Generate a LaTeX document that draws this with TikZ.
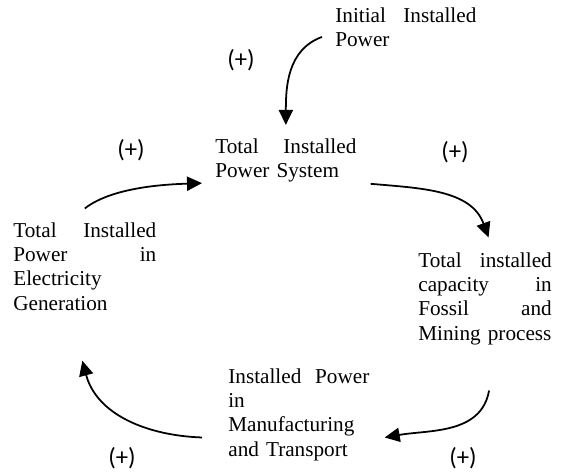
\documentclass[tikz,border=0pt]{standalone}
\usepackage{fontspec}
\setmainfont{Liberation Serif}
\newfontfamily\signfont{Carlito}
\usetikzlibrary{arrows.meta}
\hbadness=10000
\hyphenpenalty=10000

\begin{document}
\begin{tikzpicture}[x=0.566pt,y=0.566pt,
		box/.style={anchor=base west,inner sep=0pt,text width=#1,font=\fontsize{12}{13.8}\selectfont},
		box/.default=79.8pt,
		sign/.style={inner sep=0pt,font=\signfont\fontsize{14}{16}\selectfont},
		link/.style={-{Triangle[length=8.5pt,width=8pt]},line width=1pt}]
		\useasboundingbox (0,0) rectangle (566,-473);
		\node[box] (init) at (335,-22) {Initial\hfill Installed\\Power};
		\node[box] (total) at (215,-153) {Total\hfill Installed\\Power System};
		\node[box=80.9pt] (elec) at (13,-237) {Total\hfill Installed\\Power\hfill in\\Electricity\\Generation};
		\node[box=75.5pt] (fossil) at (418,-267) {Total\hfill installed\\capacity\hfill in\\Fossil\hfill and\\Mining process};
		\node[box] (manuf) at (228,-383) {Installed\hfill Power\\in\\Manufacturing\\and Transport};
		\node[sign] (s1) at (241,-60) {(+)};
		\node[sign] (s2) at (131,-150) {(+)};
		\node[sign] (s3) at (455,-152) {(+)};
		\node[sign] (s4) at (122,-458) {(+)};
		\node[sign] (s5) at (463,-458) {(+)};
		\draw[link] ([shift={(-13,-10)}]init.west) to[out=200,in=90] ([shift={(0,13)}]total.north);
		\draw[link] ([shift={(0,13.5)}]elec.north) to[out=38,in=182,looseness=0.75] ([shift={(-13,-23)}]total.west);
		\draw[link] ([shift={(14,-1.5)}]total.south east) to[out=-5,in=110] ([shift={(3.5,14.5)}]fossil.north);
		\draw[link] ([shift={(4,-45.5)}]fossil.south) to[out=-100,in=10] ([shift={(15,-23)}]manuf.east);
		\draw[link] ([shift={(-26,-23)}]manuf.west) to[out=178,in=-75] ([shift={(-2.5,-50)}]elec.south);
	\end{tikzpicture}
\end{document}
